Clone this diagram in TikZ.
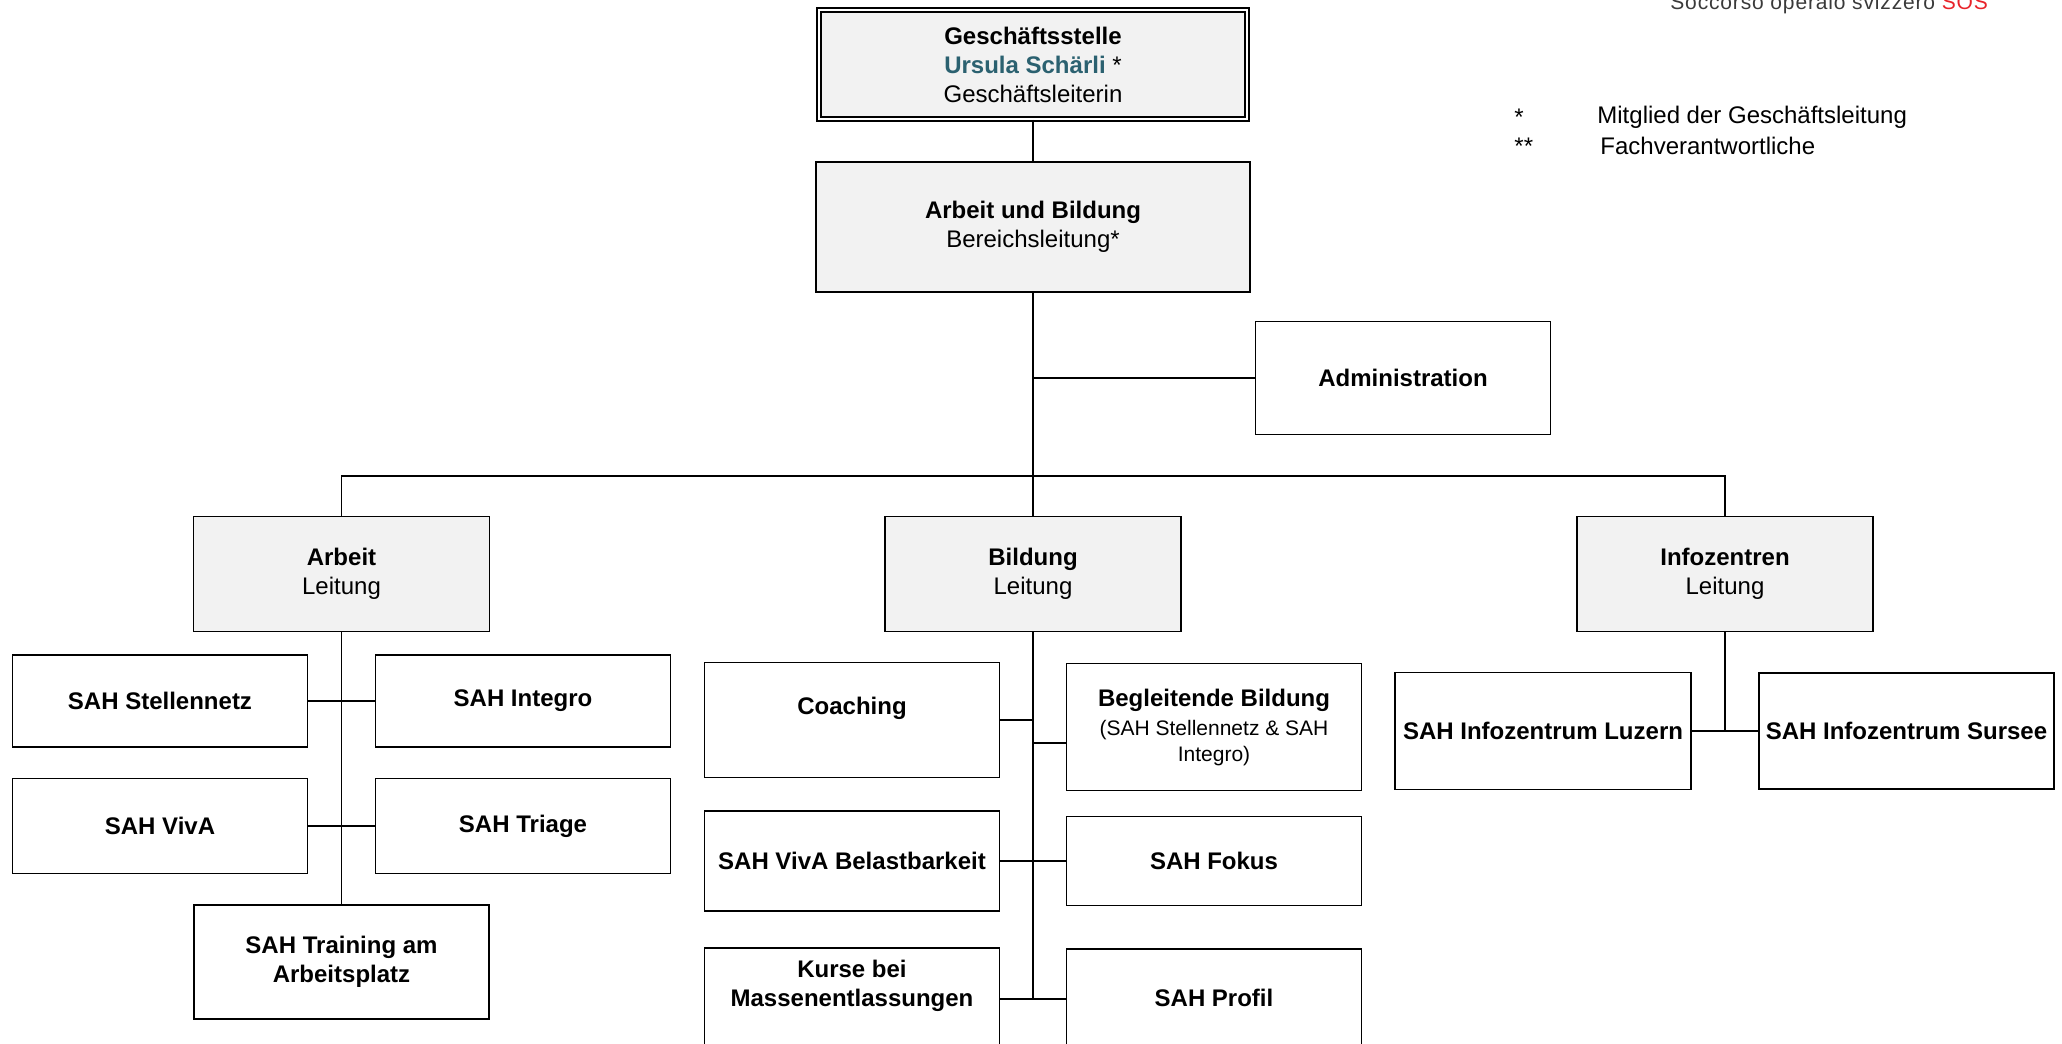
\documentclass[tikz,border=0pt]{standalone}
\usepackage{fontspec}
\setmainfont{Liberation Sans}
\newfontfamily\sosfont[LetterSpace=4]{Liberation Sans}
\definecolor{boxgray}{HTML}{F2F2F2}
\definecolor{nameteal}{HTML}{2B6170}
\definecolor{sosred}{HTML}{E8232A}
\definecolor{sosgray}{HTML}{3A3A3A}

\begin{document}
\begin{tikzpicture}[x=0.5pt, y=-0.5pt,
        orgbox/.style={draw, line width=0.8pt, inner sep=1pt, align=center, minimum width=147.5pt, font=\fontsize{12}{14.5}\selectfont\bfseries},
        leadbox/.style={orgbox, fill=boxgray, minimum width=148pt, minimum height=57.5pt},
        note/.style={anchor=west, inner sep=0pt, font=\fontsize{12}{14.5}\selectfont},
        link/.style={line width=0.8pt}]
        \useasboundingbox (0,0) rectangle (2062,1044);
        \node [anchor=base west, inner sep=0pt, font=\sosfont\fontsize{10.5}{12}\selectfont, text=sosgray] (sos) at (1670,10) {Soccorso operaio svizzero \textcolor{sosred}{SOS}};
        \node [note] (star) at (1514,117) {*};
        \node [note] (starnote) at (1597,117) {Mitglied der Geschäftsleitung};
        \node [note] (dstar) at (1514,146) {**};
        \node [note] (dstarnote) at (1600,146) {Fachverantwortliche};
        \node [orgbox, fill=boxgray, double, double distance=1.4pt, minimum width=214pt, minimum height=54.5pt] (gs) at (1033,64.5) {Geschäftsstelle\\{\color{nameteal}Ursula Schärli} {\mdseries *}\\\mdseries Geschäftsleiterin};
        \node [leadbox, minimum width=217pt, minimum height=65pt] (ab) at (1033,227) {Arbeit und Bildung\\\mdseries Bereichsleitung*};
        \node [orgbox, minimum height=56.5pt] (admin) at (1403,378) {Administration};
        \node [leadbox] (arbeit) at (341.5,574) {Arbeit\\\mdseries Leitung};
        \node [leadbox] (bildung) at (1033,574) {Bildung\\\mdseries Leitung};
        \node [leadbox] (infoz) at (1725,574) {Infozentren\\\mdseries Leitung};
        \node [orgbox, minimum height=46pt] (stelle) at (160,701) {SAH Stellennetz};
        \node [orgbox, minimum height=46pt] (integro) at (523,701) {SAH Integro};
        \node [orgbox, minimum height=47.5pt] (viva) at (160,826) {SAH VivA};
        \node [orgbox, minimum height=47.5pt] (triage) at (523,826) {SAH Triage};
        \node [orgbox, minimum height=57pt] (training) at (341.5,962) {SAH Training am\\Arbeitsplatz};
        \node [orgbox, minimum height=57.5pt] (coaching) at (852,720) {Coaching\\\mbox{}};
        \node [orgbox, minimum height=63.5pt] (begl) at (1214,727) {Begleitende Bildung\\\mdseries\fontsize{10.5}{13}\selectfont (SAH Stellennetz \& SAH\\[-1.5pt]\mdseries\fontsize{10.5}{13}\selectfont Integro)};
        \node [orgbox, minimum height=50pt] (belast) at (852,861) {SAH VivA Belastbarkeit};
        \node [orgbox, minimum height=44.5pt] (fokus) at (1214,861) {SAH Fokus};
        \node [orgbox, minimum height=64.5pt] (kurse) at (852,1012.5) {Kurse bei\\Massenentlassungen\\\mbox{}\\\mbox{}};
        \node [orgbox, minimum height=78pt] (profil) at (1214,1027) {SAH Profil\\\mbox{}\\\mbox{}};
        \node [orgbox, minimum width=148pt, minimum height=58.5pt] (luzern) at (1543,731) {SAH Infozentrum Luzern};
        \node [orgbox, minimum height=58pt] (sursee) at (1906.5,731) {SAH Infozentrum Sursee};
        \draw [link] (gs) -- (ab);
        \draw [link] (ab) -- (bildung);
        \draw [link] (admin.west) -- (admin.west -| ab.south);
        \draw [link] (arbeit.north) -- ++(0,-40) -| (infoz.north);
        \draw [link] (arbeit) -- (training);
        \draw [link] (stelle) -- (integro);
        \draw [link] (viva) -- (triage);
        \coordinate (kp) at (1033,999);
        \draw [link] (bildung.south) -- (kp);
        \draw [link] (kp -| kurse.east) -- (kp -| profil.west);
        \draw [link] (coaching.east) -- (coaching.east -| bildung.south);
        \draw [link] ([yshift=-8pt]begl.west) -- ([yshift=-8pt]begl.west -| bildung.south);
        \draw [link] (belast) -- (fokus);
        \draw [link] (infoz.south) -- (infoz.south |- luzern.east);
        \draw [link] (luzern) -- (sursee);
    \end{tikzpicture}
\end{document}
